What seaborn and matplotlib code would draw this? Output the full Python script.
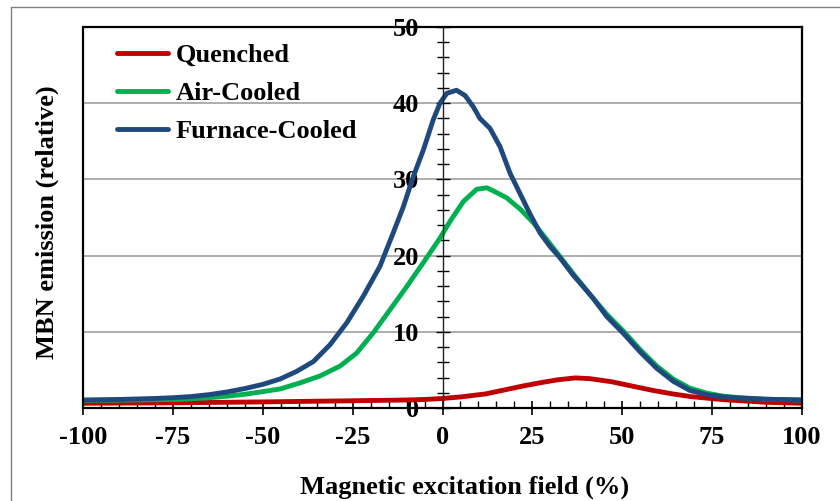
import numpy as np
import pandas as pd
import matplotlib
matplotlib.use("Agg")
import matplotlib.pyplot as plt
import seaborn as sns
from matplotlib.ticker import MultipleLocator
from matplotlib.lines import Line2D

# ---------------- data ----------------
series_names = ["Quenched", "Air-Cooled", "Furnace-Cooled"]
series_colors = ["#C00000", "#00B050", "#1F497D"]

quenched_x = [-100, -75, -50, -25, -10, -5, 0, 5, 12, 17, 22, 27, 32, 37, 41,
              47, 53, 58.6, 64, 69, 73.5, 78, 83, 90, 100]
quenched_y = [0.62, 0.68, 0.8, 0.95, 1.05, 1.12, 1.25, 1.45, 1.85, 2.35, 2.85,
              3.3, 3.7, 3.95, 3.85, 3.45, 2.85, 2.3, 1.85, 1.5, 1.3, 1.1, 0.95,
              0.75, 0.62]

air_x = [-100, -90, -80, -75, -70, -65, -60, -55, -50, -45.2, -39.6, -34.1,
         -28.5, -23.9, -19.2, -14.6, -10, -5.3, -0.7, 2.1, 5.8, 9.5, 12.3,
         14.1, 17.8, 21.6, 25.3, 29, 31.8, 36.4, 41, 45.7, 50.3, 54.9, 59.6,
         64.2, 68.8, 73.5, 78.1, 82.8, 90, 100]
air_y = [1.0, 1.03, 1.08, 1.12, 1.2, 1.35, 1.55, 1.8, 2.15, 2.5, 3.3, 4.2, 5.5,
         7.2, 9.9, 12.9, 15.9, 19.1, 22.3, 24.5, 27.1, 28.7, 28.9, 28.5, 27.6,
         26.1, 24.3, 22.1, 20.4, 17.6, 14.9, 12.3, 10.1, 7.7, 5.5, 3.8, 2.6,
         1.95, 1.55, 1.35, 1.15, 1.05]

furnace_x = [-100, -90, -80, -75, -70, -65, -60, -55, -50, -45.2, -40.6, -35.9,
             -31.3, -26.6, -22, -17.4, -13.7, -10.9, -8.1, -5.3, -2.6, -0.7,
             1.2, 3.9, 6.3, 8.6, 10.4, 13.2, 16, 18.8, 21.6, 24.3, 27.1, 29.9,
             32.7, 36.4, 39.2, 41.9, 45.7, 50.3, 54.9, 59.6, 64.2, 68.8, 73.5,
             78.1, 82.8, 90, 100]
furnace_y = [1.05, 1.12, 1.25, 1.35, 1.5, 1.75, 2.1, 2.55, 3.1, 3.8, 4.8, 6.1,
             8.3, 11.2, 14.7, 18.6, 23.0, 26.4, 30.4, 33.9, 37.8, 40.0, 41.3,
             41.7, 41.0, 39.5, 38.0, 36.7, 34.3, 30.8, 28.1, 25.5, 23.0, 21.2,
             19.7, 17.4, 15.9, 14.4, 12.0, 9.8, 7.4, 5.2, 3.5, 2.3, 1.75, 1.45,
             1.3, 1.15, 1.05]

x_major_step = 25
x_minor_step = 5
y_major_step = 10
y_minor_step = 2

x_label = "Magnetic excitation field (%)"
y_label = "MBN emission (relative)"

# ---------------- frame ----------------
df = pd.concat([
    pd.DataFrame({"field": quenched_x, "mbn": quenched_y, "series": series_names[0]}),
    pd.DataFrame({"field": air_x, "mbn": air_y, "series": series_names[1]}),
    pd.DataFrame({"field": furnace_x, "mbn": furnace_y, "series": series_names[2]}),
], ignore_index=True)

sns.set_theme(style="white")
plt.rcParams["font.family"] = ["Liberation Serif", "DejaVu Serif"]
plt.rcParams["font.weight"] = "bold"
plt.rcParams["axes.unicode_minus"] = False
for k in ["text.color", "axes.labelcolor", "xtick.color", "ytick.color"]:
    plt.rcParams[k] = "black"

W, H = 840, 501
fig = plt.figure(figsize=(W / 100, H / 100), dpi=100)
ax = fig.add_axes([83 / W, (H - 408) / H, 719 / W, 381 / H])

palette = dict(zip(series_names, series_colors))
sns.lineplot(data=df, x="field", y="mbn", hue="series", hue_order=series_names,
             palette=palette, linewidth=3.5, ax=ax, legend=False, sort=True,
             estimator=None)
for ln in ax.lines:
    ln.set_solid_capstyle("round")
    ln.set_solid_joinstyle("round")

ax.set_xlim(-100, 100)
ax.set_ylim(0, 50)

# grid
ax.yaxis.grid(True, which="major", color="#A0A0A0", linewidth=1.2)
ax.xaxis.grid(False)
ax.set_axisbelow(True)

# spines
for s in ["top", "right", "bottom"]:
    ax.spines[s].set_color("black")
    ax.spines[s].set_linewidth(1.6)
    ax.spines[s].set_visible(True)
ax.spines["left"].set_position(("data", 0))
ax.spines["left"].set_color("#222222")
ax.spines["left"].set_linewidth(1.0)
ax.axvline(-100, color="black", linewidth=1.6, clip_on=False, zorder=3)

# ticks
ax.xaxis.set_major_locator(MultipleLocator(x_major_step))
ax.xaxis.set_minor_locator(MultipleLocator(x_minor_step))
ax.yaxis.set_major_locator(MultipleLocator(y_major_step))
ax.yaxis.set_minor_locator(MultipleLocator(y_minor_step))
ax.tick_params(axis="x", which="major", direction="inout", length=10, width=1.2,
               pad=8, labelsize=19, bottom=True, top=False)
ax.tick_params(axis="x", which="minor", direction="in", length=5, width=1.0,
               bottom=True, top=False)
ax.tick_params(axis="y", which="major", direction="inout", length=10, width=1.0,
               pad=12, labelsize=19, left=True, right=False)
ax.tick_params(axis="y", which="minor", direction="inout", length=8, width=1.0,
               left=True, right=False)
for lab in ax.get_xticklabels() + ax.get_yticklabels():
    lab.set_fontweight("bold")

# labels
ax.set_xlabel(x_label, fontsize=19, fontweight="bold")
ax.set_ylabel(y_label, fontsize=19, fontweight="bold")
ax.xaxis.label.set_va("center")
ax.yaxis.label.set_va("center")
ax.xaxis.set_label_coords((465 - 83) / 719, (408 - 487) / 381)
ax.yaxis.set_label_coords((47 - 83) / 719, (408 - 222) / 381)

# legend
handles = [Line2D([0], [0], color=c, linewidth=3.5, solid_capstyle="round")
           for c in series_colors]
ax.legend(handles, series_names, loc="upper left", bbox_to_anchor=(0.047, 0.957),
          frameon=False, borderpad=0, borderaxespad=0, handlelength=1.95,
          handletextpad=0.27, labelspacing=0.55,
          prop={"weight": "bold", "size": 19})

# outer chart border (left and top visible in the reference)
fig.add_artist(Line2D([11 / W, 11 / W], [0, 1 - 7 / H], transform=fig.transFigure,
                      color="#808080", linewidth=1.0))
fig.add_artist(Line2D([11 / W, 1], [1 - 7 / H, 1 - 7 / H], transform=fig.transFigure,
                      color="#808080", linewidth=1.0))

fig.savefig("out.png", dpi=100)
